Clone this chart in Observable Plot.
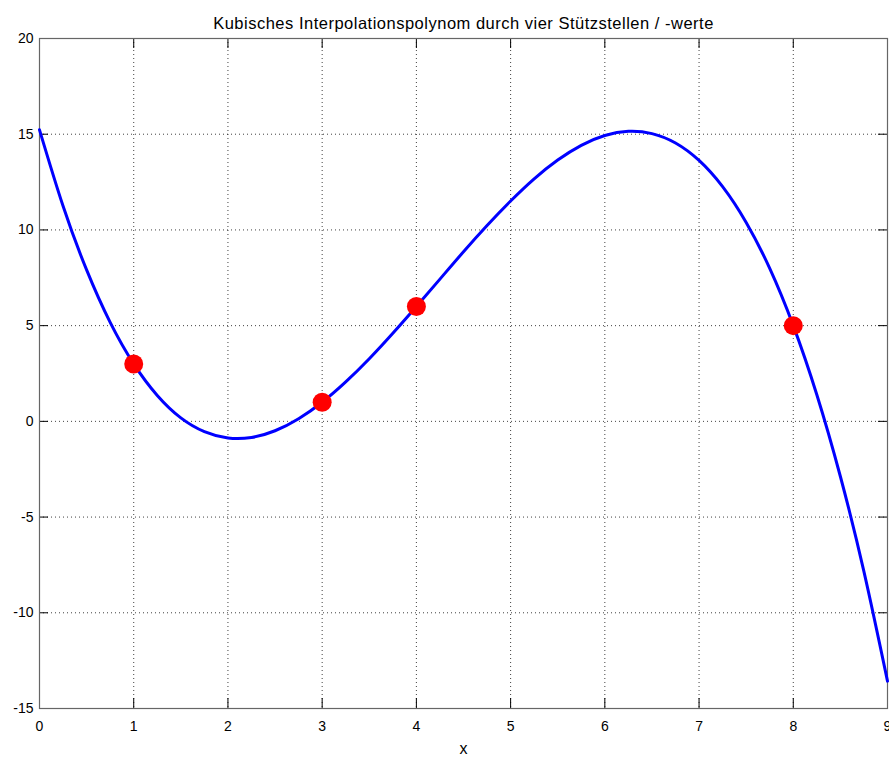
<!DOCTYPE html>
<html>
<head>
<meta charset="utf-8">
<script src="https://cdn.jsdelivr.net/npm/d3@7"></script>
<script src="https://cdn.jsdelivr.net/npm/@observablehq/plot@0.6"></script>
<style>
  html, body { margin: 0; padding: 0; background: #fff; }
  #chart svg { display: block; }
</style>
</head>
<body>
<div id="chart"></div>
<script>
const titleText = "Kubisches Interpolationspolynom durch vier Stützstellen / -werte";
const xLabel = "x";

// Curve
const curveX = [0,0.25,0.5,0.75,1,1.25,1.5,1.75,2,2.25,2.5,2.75,3,3.25,3.5,3.75,4,4.25,4.5,4.75,5,5.25,5.5,5.75,6,6.25,6.5,6.75,7,7.25,7.5,7.75,8,8.25,8.5,8.75,9];
const curveY = [15.23,11.25,7.91,5.17,3.0,1.35,0.18,-0.54,-0.87,-0.84,-0.49,0.14,1.0,2.06,3.27,4.60,6.0,7.43,8.86,10.23,11.51,12.67,13.65,14.42,14.93,15.15,15.03,14.54,13.63,12.26,10.39,7.99,5.0,1.39,-2.88,-7.85,-13.57];

// Support points
const nodeX = [1, 3, 4, 8];
const nodeY = [3, 1, 6, 5];

const xTicks = [0,1,2,3,4,5,6,7,8,9];
const yTicks = [-15,-10,-5,0,5,10,15,20];

const curve = curveX.map((x, i) => ({x, y: curveY[i]}));
const nodes = nodeX.map((x, i) => ({x, y: nodeY[i]}));

const font = "'Liberation Sans', Arial, Helvetica, sans-serif";
const fmt = d => String(d);

const chart = Plot.plot({
  width: 889,
  height: 758,
  marginLeft: 39,
  marginRight: 2,
  marginTop: 38,
  marginBottom: 50,
  style: {fontFamily: font, fontSize: "14px", color: "#000", background: "#fff"},
  x: {domain: [0, 9], ticks: xTicks, label: null},
  y: {domain: [-15, 20], ticks: yTicks, label: null},
  marks: [
    Plot.gridX(xTicks, {stroke: "#000", strokeOpacity: 0.75, strokeDasharray: "1,3"}),
    Plot.gridY(yTicks, {stroke: "#000", strokeOpacity: 0.75, strokeDasharray: "1,3"}),
    // inward ticks
    Plot.ruleX(xTicks, {insetTop: 660, stroke: "#000"}),
    Plot.ruleX(xTicks, {insetBottom: 660, stroke: "#000"}),
    Plot.ruleY(yTicks, {insetRight: 839, stroke: "#000"}),
    Plot.ruleY(yTicks, {insetLeft: 839, stroke: "#000"}),
    Plot.frame({stroke: "#666", strokeWidth: 1.2}),
    Plot.axisX(xTicks, {tickSize: 0, tickPadding: 13, fontSize: 14, tickFormat: fmt, label: null}),
    Plot.axisY(yTicks, {tickSize: 0, tickPadding: 6, fontSize: 14, tickFormat: fmt, label: null}),
    Plot.line(curve, {x: "x", y: "y", stroke: "#0000ff", strokeWidth: 3, curve: "natural"}),
    Plot.dot(nodes, {x: "x", y: "y", r: 9.5, fill: "#ff0000", stroke: "none"}),
    Plot.text([titleText], {frameAnchor: "top", dy: -21, fontSize: 16.5, fill: "#000", style: "letter-spacing:0.5px"}),
    Plot.text([xLabel], {frameAnchor: "bottom", dy: 45, fontSize: 16, fill: "#000"})
  ]
});
chart.querySelectorAll("text").forEach(t => {
  if (t.textContent === titleText) t.style.letterSpacing = "0.5px";
});
document.getElementById("chart").appendChild(chart);
</script>
</body>
</html>
